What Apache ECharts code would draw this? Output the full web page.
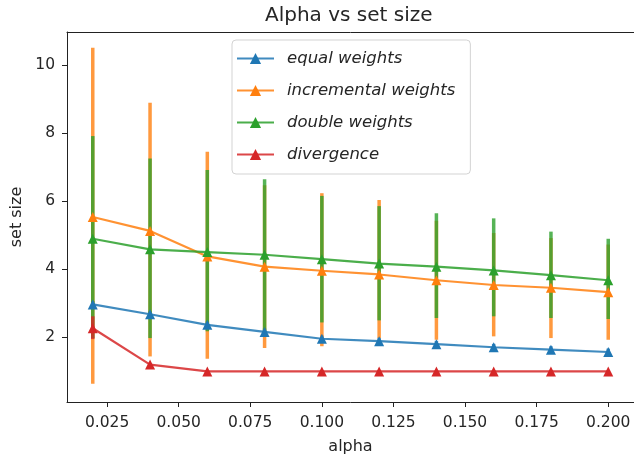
<!DOCTYPE html>
<html>
<head>
<meta charset="utf-8">
<script src="https://cdn.jsdelivr.net/npm/echarts@6/dist/echarts.min.js"></script>
<style>
html,body{margin:0;padding:0;background:#fff;}
#chart{width:634px;height:460px;}
</style>
</head>
<body>
<div id="chart"></div>
<script>
var alphaValues = [0.02, 0.04, 0.06, 0.08, 0.10, 0.12, 0.14, 0.16, 0.18, 0.20];
var xTicks = [0.025, 0.050, 0.075, 0.100, 0.125, 0.150, 0.175, 0.200];
var yTicks = [2, 4, 6, 8, 10];

var equalMean = [2.97, 2.68, 2.37, 2.16, 1.96, 1.89, 1.80, 1.71, 1.64, 1.57];
var equalLow  = [2.87, 2.58, 2.27, 2.06, 1.86, 1.79, 1.70, 1.61, 1.54, 1.47];
var equalHigh = [3.07, 2.78, 2.47, 2.26, 2.06, 1.99, 1.90, 1.81, 1.74, 1.67];

var incrMean = [5.54, 5.13, 4.38, 4.08, 3.96, 3.85, 3.68, 3.54, 3.46, 3.33];
var incrLow  = [0.64, 1.44, 1.37, 1.69, 1.74, 1.98, 1.93, 2.03, 1.98, 1.93];
var incrHigh = [10.52, 8.90, 7.46, 6.47, 6.24, 6.04, 5.43, 5.07, 4.92, 4.73];

var doubleMean = [4.90, 4.59, 4.51, 4.43, 4.30, 4.17, 4.08, 3.97, 3.83, 3.68];
var doubleLow  = [1.98, 1.98, 2.18, 2.13, 2.44, 2.50, 2.57, 2.62, 2.57, 2.54];
var doubleHigh = [7.92, 7.26, 6.92, 6.65, 6.16, 5.86, 5.65, 5.50, 5.11, 4.90];

var divMean = [2.27, 1.20, 1.00, 1.00, 1.00, 1.00, 1.00, 1.00, 1.00, 1.00];
var divLow  = [1.95, 1.20, 1.00, 1.00, 1.00, 1.00, 1.00, 1.00, 1.00, 1.00];
var divHigh = [2.62, 1.20, 1.00, 1.00, 1.00, 1.00, 1.00, 1.00, 1.00, 1.00];

var seriesNames = ['equal weights', 'incremental weights', 'double weights', 'divergence'];
var colors = ['#1f77b4', '#ff7f0e', '#2ca02c', '#d62728'];

var means = [equalMean, incrMean, doubleMean, divMean];
var lows = [equalLow, incrLow, doubleLow, divLow];
var highs = [equalHigh, incrHigh, doubleHigh, divHigh];

var textColor = '#262626';
var frameColor = '#222';
var series = [];

// error bars first
for (var s = 0; s < 4; s++) {
  (function (s) {
    var data = alphaValues.map(function (a, i) { return [a, lows[s][i], highs[s][i]]; });
    series.push({
      type: 'custom',
      name: seriesNames[s] + ' err',
      data: data,
      z: 1,
      encode: { x: 0, y: [1, 2] },
      silent: true,
      renderItem: function (params, api) {
        var x = api.value(0);
        var p1 = api.coord([x, api.value(1)]);
        var p2 = api.coord([x, api.value(2)]);
        return {
          type: 'line',
          shape: { x1: p1[0], y1: p1[1], x2: p2[0], y2: p2[1] },
          style: { stroke: colors[s], lineWidth: 3.5, opacity: 0.8 }
        };
      }
    });
  })(s);
}

for (var s2 = 0; s2 < 4; s2++) {
  series.push({
    type: 'line',
    name: seriesNames[s2],
    data: alphaValues.map(function (a, i) { return [a, means[s2][i]]; }),
    z: 3,
    symbol: 'triangle',
    symbolSize: 10,
    showAllSymbol: true,
    color: colors[s2],
    itemStyle: { color: colors[s2] },
    lineStyle: { color: colors[s2], width: 2.2, opacity: 0.85 }
  });
}

var chart = echarts.init(document.getElementById('chart'), null, { renderer: 'canvas' });
chart.setOption({
  animation: false,
  backgroundColor: '#ffffff',
  title: {
    text: 'Alpha vs set size',
    left: 265,
    top: 6,
    padding: 0,
    textStyle: { fontFamily: 'DejaVu Sans', fontSize: 20, fontWeight: 'normal', color: textColor }
  },
  legend: {
    data: seriesNames,
    orient: 'vertical',
    left: 232,
    top: 40,
    itemWidth: 37,
    itemHeight: 14,
    itemGap: 15,
    padding: [10, 15, 11, 4],
    backgroundColor: 'rgba(255,255,255,0.8)',
    borderColor: '#d3d3d3',
    borderWidth: 1,
    borderRadius: 4,
    textStyle: { fontFamily: 'DejaVu Sans', fontStyle: 'italic', fontSize: 16.5, color: textColor, padding: [0, 0, 0, 8] }
  },
  grid: {
    left: 67,
    top: 32,
    right: -2,
    height: 370
  },
  xAxis: [{
    type: 'value',
    min: 0.011,
    max: 0.209,
    name: 'alpha',
    nameLocation: 'middle',
    nameGap: 37,
    nameTextStyle: { fontFamily: 'DejaVu Sans', fontSize: 16, color: textColor },
    splitLine: { show: false },
    axisLine: { show: true, onZero: false, lineStyle: { color: frameColor, width: 1 } },
    axisTick: { show: true, length: 5, customValues: xTicks, lineStyle: { color: frameColor } },
    axisLabel: {
      customValues: xTicks,
      margin: 13,
      fontFamily: 'DejaVu Sans', fontSize: 15.5, color: textColor,
      formatter: function (v) { return v.toFixed(3); }
    }
  }, {
    type: 'value',
    position: 'top',
    min: 0.011,
    max: 0.209,
    splitLine: { show: false },
    axisLine: { show: true, onZero: false, lineStyle: { color: frameColor, width: 1 } },
    axisTick: { show: false },
    axisLabel: { show: false }
  }],
  yAxis: {
    type: 'value',
    min: 0.1,
    max: 10.98,
    name: 'set size',
    nameLocation: 'middle',
    nameGap: 42,
    nameTextStyle: { fontFamily: 'DejaVu Sans', fontSize: 16, color: textColor },
    splitLine: { show: false },
    axisLine: { show: true, onZero: false, lineStyle: { color: frameColor, width: 1 } },
    axisTick: { show: true, length: 5, customValues: yTicks, lineStyle: { color: frameColor } },
    axisLabel: {
      customValues: yTicks,
      margin: 12,
      fontFamily: 'DejaVu Sans', fontSize: 15.5, color: textColor
    }
  },
  series: series
});
</script>
</body>
</html>
